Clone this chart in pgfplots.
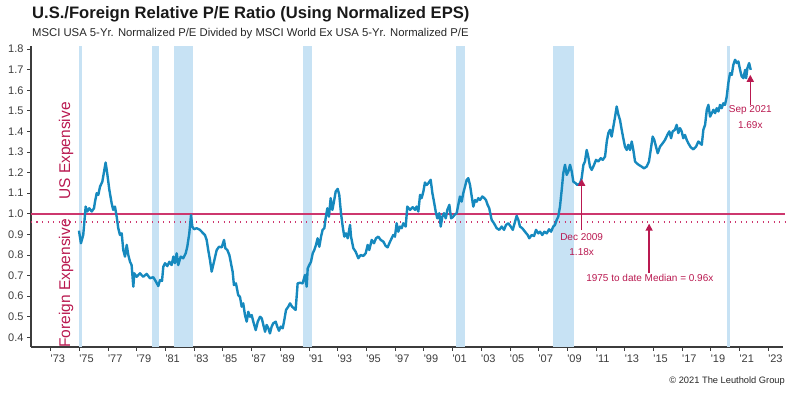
\documentclass[border=0pt]{standalone}
\usepackage{fontspec}
\setmainfont{Liberation Sans}
\usepackage{pgfplots}
\pgfplotsset{compat=1.18}
\usetikzlibrary{arrows.meta}
\definecolor{crim}{RGB}{185,25,80}
\definecolor{refline}{RGB}{205,55,110}
\definecolor{lineblue}{RGB}{22,137,190}
\definecolor{band}{RGB}{199,226,244}
\definecolor{txtgray}{RGB}{60,60,60}
\begin{document}
\begin{tikzpicture}[x=1pt,y=1pt]
\useasboundingbox (-31,-48) rectangle (769,347);
\begin{axis}[
  at={(0,0)}, anchor=south west,
  scale only axis, width=752pt, height=301pt,
  xmin=1971.63, xmax=2024.03, ymin=0.353, ymax=1.815,
  axis x line*=bottom, axis y line*=left,
  axis line style={-, line width=1.1pt, color=txtgray},
  tick align=outside, major tick length=4pt,
  tick style={line width=0.8pt, color=txtgray},
  xtick={1973,1975,...,2023},
  xticklabels={{\textquotesingle}73,{\textquotesingle}75,{\textquotesingle}77,{\textquotesingle}79,{\textquotesingle}81,{\textquotesingle}83,{\textquotesingle}85,{\textquotesingle}87,{\textquotesingle}89,{\textquotesingle}91,{\textquotesingle}93,{\textquotesingle}95,{\textquotesingle}97,{\textquotesingle}99,{\textquotesingle}01,{\textquotesingle}03,{\textquotesingle}05,{\textquotesingle}07,{\textquotesingle}09,{\textquotesingle}11,{\textquotesingle}13,{\textquotesingle}15,{\textquotesingle}17,{\textquotesingle}19,{\textquotesingle}21,{\textquotesingle}23},
  xticklabel style={anchor=north west, xshift=-3.5pt, font=\fontsize{11}{13}\selectfont, color=txtgray},
  ytick={0.4,0.5,...,1.81},
  yticklabel style={font=\fontsize{11}{13}\selectfont, color=txtgray, /pgf/number format/.cd, fixed, fixed zerofill, precision=1, assume math mode=true},
  clip=false,
]
% recession bands
\fill[band] (axis cs:1974.97,0.353) rectangle (axis cs:1975.20,1.815);
\fill[band] (axis cs:1980.08,0.353) rectangle (axis cs:1980.57,1.815);
\fill[band] (axis cs:1981.59,0.353) rectangle (axis cs:1982.90,1.815);
\fill[band] (axis cs:1990.56,0.353) rectangle (axis cs:1991.21,1.815);
\fill[band] (axis cs:2001.22,0.353) rectangle (axis cs:2001.89,1.815);
\fill[band] (axis cs:2008.00,0.353) rectangle (axis cs:2009.49,1.815);
\fill[band] (axis cs:2020.15,0.353) rectangle (axis cs:2020.34,1.815);
% reference lines
\draw[draw=refline, line width=1.5pt] (axis cs:1971.63,1.0) -- (axis cs:2024.15,1.0);
\draw[draw=refline, line width=1.4pt, dash pattern=on 1.3pt off 4.2pt] (axis cs:1971.63,0.96) -- (axis cs:2024.15,0.96);
\addplot[lineblue, line width=2.4pt, line join=round, no markers] coordinates {
(1974.97,0.918) (1975.11,0.857) (1975.27,0.897) (1975.44,1.035) (1975.55,1.011) (1975.69,1.027) (1975.86,1.011)
(1976.02,1.027) (1976.09,1.059) (1976.21,1.100) (1976.32,1.092) (1976.44,1.132) (1976.60,1.156) (1976.74,1.213)
(1976.83,1.249) (1976.94,1.197) (1977.09,1.116) (1977.25,1.051) (1977.36,1.019) (1977.48,1.035) (1977.60,0.986)
(1977.71,0.930) (1977.83,0.897) (1977.95,0.905) (1978.06,0.824) (1978.18,0.792) (1978.30,0.849) (1978.41,0.800)
(1978.53,0.767) (1978.64,0.751) (1978.76,0.646) (1978.83,0.711) (1978.99,0.694) (1979.22,0.711) (1979.45,0.694)
(1979.69,0.708) (1979.92,0.687) (1980.15,0.692) (1980.34,0.670) (1980.50,0.649) (1980.62,0.678) (1980.76,0.674)
(1980.85,0.743) (1980.97,0.760) (1981.13,0.746) (1981.27,0.767) (1981.43,0.751) (1981.55,0.792) (1981.66,0.760)
(1981.78,0.808) (1981.89,0.751) (1982.06,0.792) (1982.24,0.784) (1982.41,0.808) (1982.52,0.840) (1982.66,0.905)
(1982.78,0.994) (1982.87,0.938) (1982.99,0.925) (1983.17,0.930) (1983.40,0.922) (1983.63,0.905) (1983.75,0.897)
(1983.87,0.873) (1983.98,0.824) (1984.10,0.776) (1984.22,0.719) (1984.38,0.767) (1984.57,0.824) (1984.73,0.840)
(1984.92,0.837) (1985.08,0.873) (1985.17,0.833) (1985.31,0.824) (1985.45,0.800) (1985.68,0.719) (1985.77,0.654)
(1985.91,0.662) (1986.07,0.605) (1986.19,0.597) (1986.31,0.549) (1986.42,0.565) (1986.54,0.508) (1986.66,0.476)
(1986.77,0.524) (1986.89,0.500) (1987.01,0.508) (1987.12,0.476) (1987.29,0.435) (1987.43,0.476) (1987.59,0.500)
(1987.71,0.492) (1987.82,0.460) (1987.94,0.427) (1988.05,0.460) (1988.17,0.444) (1988.28,0.419) (1988.40,0.452)
(1988.51,0.468) (1988.68,0.476) (1988.79,0.452) (1988.91,0.432) (1989.03,0.452) (1989.17,0.444) (1989.28,0.484)
(1989.40,0.533) (1989.56,0.549) (1989.68,0.565) (1989.82,0.549) (1989.95,0.541) (1990.07,0.533) (1990.21,0.662)
(1990.37,0.665) (1990.56,0.662) (1990.72,0.703) (1990.84,0.646) (1990.91,0.735) (1991.02,0.751) (1991.14,0.767)
(1991.26,0.808) (1991.37,0.824) (1991.49,0.849) (1991.60,0.881) (1991.72,0.840) (1991.84,0.889) (1991.95,0.922)
(1992.07,0.930) (1992.16,0.978) (1992.28,1.027) (1992.39,0.986) (1992.51,1.076) (1992.63,1.019) (1992.74,1.059)
(1992.86,1.108) (1993.00,1.121) (1993.11,1.092) (1993.23,1.003) (1993.35,0.938) (1993.46,0.889) (1993.58,0.905)
(1993.70,0.881) (1993.86,0.946) (1993.93,0.889) (1994.09,0.833) (1994.25,0.816) (1994.44,0.784) (1994.60,0.800)
(1994.78,0.795) (1994.95,0.808) (1995.09,0.849) (1995.20,0.824) (1995.37,0.873) (1995.53,0.857) (1995.67,0.881)
(1995.83,0.889) (1996.00,0.873) (1996.18,0.865) (1996.34,0.844) (1996.48,0.837) (1996.60,0.857) (1996.76,0.881)
(1996.87,0.897) (1996.99,0.889) (1997.11,0.954) (1997.22,0.913) (1997.34,0.938) (1997.46,0.930) (1997.57,0.954)
(1997.74,0.938) (1997.85,1.035) (1998.04,1.019) (1998.23,1.032) (1998.39,1.019) (1998.50,1.035) (1998.62,1.011)
(1998.74,1.092) (1998.85,1.076) (1998.97,1.108) (1999.08,1.152) (1999.20,1.140) (1999.31,1.148) (1999.48,1.165)
(1999.60,1.100) (1999.71,1.059) (1999.83,1.011) (1999.94,0.978) (2000.08,1.003) (2000.18,0.938) (2000.29,0.986)
(2000.41,1.003) (2000.53,0.978) (2000.64,1.019) (2000.78,1.043) (2000.90,0.978) (2001.01,0.983) (2001.13,0.994)
(2001.29,1.003) (2001.40,1.043) (2001.52,1.084) (2001.64,1.059) (2001.75,1.100) (2001.87,1.132) (2001.99,1.165)
(2002.10,1.173) (2002.22,1.140) (2002.34,1.084) (2002.45,1.035) (2002.57,1.067) (2002.69,1.059) (2002.80,1.076)
(2002.92,1.067) (2003.08,1.084) (2003.22,1.076) (2003.33,1.067) (2003.45,1.043) (2003.56,1.027) (2003.73,0.970)
(2003.89,0.954) (2004.08,0.930) (2004.26,0.922) (2004.43,0.938) (2004.59,0.922) (2004.73,0.946) (2004.89,0.954)
(2005.06,0.938) (2005.20,0.922) (2005.36,0.962) (2005.47,0.990) (2005.59,0.970) (2005.70,0.938) (2005.86,0.930)
(2006.05,0.913) (2006.24,0.897) (2006.35,0.881) (2006.52,0.897) (2006.68,0.892) (2006.82,0.922) (2006.98,0.905)
(2007.10,0.913) (2007.26,0.897) (2007.40,0.913) (2007.57,0.905) (2007.73,0.925) (2007.87,0.913) (2008.02,0.938)
(2008.14,0.946) (2008.26,0.970) (2008.37,0.986) (2008.49,1.035) (2008.61,1.116) (2008.72,1.197) (2008.84,1.238)
(2008.96,1.189) (2009.07,1.205) (2009.19,1.238) (2009.31,1.205) (2009.42,1.156) (2009.59,1.148) (2009.70,1.140)
(2009.89,1.148) (2010.00,1.173) (2010.12,1.237) (2010.23,1.254) (2010.35,1.310) (2010.46,1.278) (2010.58,1.229)
(2010.70,1.213) (2010.86,1.237) (2011.00,1.262) (2011.16,1.254) (2011.33,1.270) (2011.47,1.262) (2011.63,1.278)
(2011.75,1.351) (2011.86,1.392) (2011.98,1.408) (2012.09,1.375) (2012.21,1.424) (2012.33,1.472) (2012.44,1.521)
(2012.56,1.481) (2012.67,1.456) (2012.79,1.408) (2012.90,1.367) (2013.02,1.326) (2013.14,1.310) (2013.25,1.335)
(2013.37,1.310) (2013.49,1.351) (2013.60,1.310) (2013.72,1.254) (2013.83,1.246) (2013.99,1.237) (2014.18,1.229)
(2014.34,1.221) (2014.53,1.229) (2014.69,1.254) (2014.81,1.310) (2014.95,1.375) (2015.06,1.359) (2015.18,1.326)
(2015.30,1.294) (2015.46,1.326) (2015.65,1.343) (2015.81,1.359) (2015.97,1.383) (2016.11,1.400) (2016.23,1.367)
(2016.34,1.400) (2016.50,1.408) (2016.62,1.432) (2016.74,1.392) (2016.85,1.416) (2016.97,1.400) (2017.08,1.367)
(2017.20,1.383) (2017.32,1.359) (2017.43,1.343) (2017.60,1.323) (2017.78,1.313) (2017.97,1.326) (2018.13,1.351)
(2018.25,1.343) (2018.37,1.335) (2018.48,1.408) (2018.60,1.432) (2018.72,1.505) (2018.83,1.529) (2018.95,1.472)
(2019.07,1.489) (2019.18,1.505) (2019.30,1.489) (2019.41,1.513) (2019.53,1.497) (2019.64,1.529) (2019.76,1.513)
(2019.87,1.537) (2019.99,1.529) (2020.11,1.570) (2020.22,1.635) (2020.34,1.683) (2020.46,1.675) (2020.57,1.724)
(2020.69,1.748) (2020.81,1.732) (2020.92,1.740) (2021.04,1.699) (2021.15,1.667) (2021.27,1.659) (2021.39,1.699)
(2021.46,1.659) (2021.55,1.708) (2021.67,1.732) (2021.78,1.699)
};
% annotations
\draw[draw=crim, line width=1.5pt, -{Triangle[width=7pt,length=7pt]}] (axis cs:2010.0,0.921) -- (axis cs:2010.0,1.170);
\node[crim, font=\fontsize{10}{12}\selectfont] at (axis cs:2010.0,0.886) {Dec 2009};
\node[crim, font=\fontsize{10}{12}\selectfont] at (axis cs:2010.0,0.815) {1.18x};
\draw[draw=crim, line width=1.5pt, -{Triangle[width=7pt,length=7pt]}] (axis cs:2014.7,0.713) -- (axis cs:2014.7,0.952);
\node[crim, font=\fontsize{10}{12}\selectfont] at (axis cs:2014.75,0.687) {1975 to date Median = 0.96x};
\draw[draw=crim, line width=1.5pt, -{Triangle[width=7pt,length=7pt]}] (axis cs:2021.75,1.529) -- (axis cs:2021.75,1.675);
\node[crim, font=\fontsize{10}{12}\selectfont] at (axis cs:2021.75,1.505) {Sep 2021};
\node[crim, font=\fontsize{10}{12}\selectfont] at (axis cs:2021.75,1.429) {1.69x};
\end{axis}
% texts outside / overlays
\node[anchor=west, inner sep=0pt, font=\fontsize{16.6}{19}\selectfont\bfseries, text=black!90] at (1,333) {U.S./Foreign Relative P/E Ratio (Using Normalized EPS)};
\node[anchor=west, inner sep=0pt, font=\fontsize{11.3}{13}\selectfont, text=black!85] at (1,313) {MSCI USA 5-Yr. Normalized P/E Divided by MSCI World Ex USA 5-Yr. Normalized P/E};
\node[rotate=90, crim, font=\fontsize{15.5}{18}\selectfont, inner sep=0pt] at (35,196) {US Expensive};
\node[rotate=90, crim, font=\fontsize{15.5}{18}\selectfont, inner sep=0pt] at (35,63.5) {Foreign Expensive};
\node[anchor=east, inner sep=0pt, font=\fontsize{9.3}{11}\selectfont, text=black!85] at (754,-34) {\textcopyright{} 2021 The Leuthold Group};
\end{tikzpicture}
\end{document}
